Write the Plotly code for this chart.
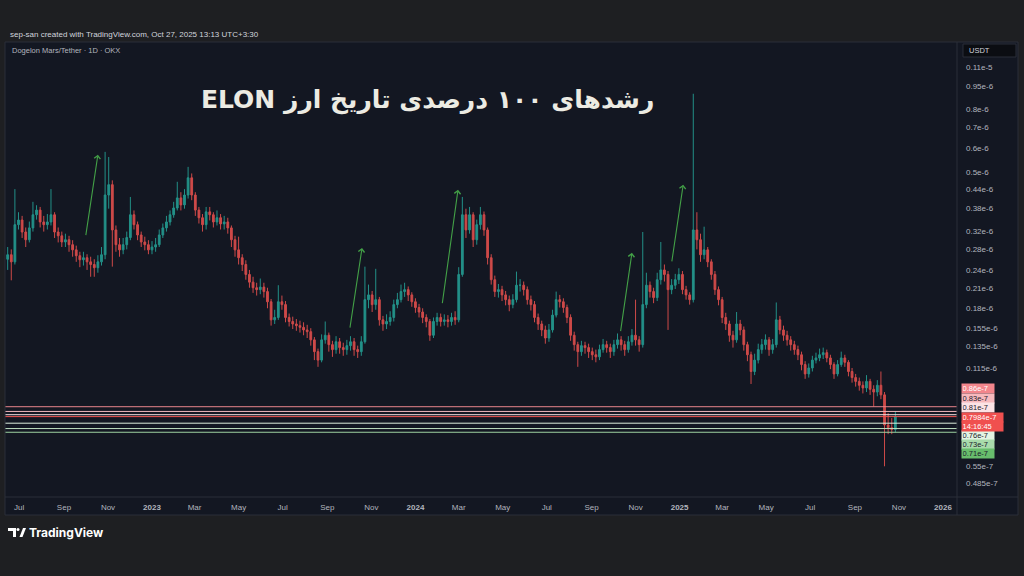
import numpy as np
import pandas as pd
import plotly.graph_objects as go

W, H = 1024, 576
SCALE = 1e-8  # all price lists below are in units of 1e-8 USDT

# ---------------- data (5-day candles) ----------------
first_open = 26.0
close = [26.9,25.5,33.7,34.9,31.9,30.1,32.9,36.3,37.6,34.4,
         33.7,34.4,36.3,31.9,31.0,29.6,30.1,29.0,27.9,26.7,
         25.9,26.3,25.5,25.0,24.4,25.5,26.9,42.1,45.5,32.4,
         29.0,27.9,29.0,30.6,36.3,33.7,31.2,29.6,29.0,27.9,
         28.5,29.0,31.2,32.9,34.4,36.3,38.2,41.2,39.1,42.1,
         47.9,42.1,37.6,35.5,33.7,37.1,36.3,34.4,35.5,33.9,
         34.4,32.9,30.1,27.9,26.3,25.0,23.2,21.9,21.0,20.7,
         21.1,20.4,18.9,16.5,16.8,18.9,18.5,16.8,16.3,16.0,
         15.8,15.6,15.3,15.1,14.2,13.0,12.2,14.2,14.7,13.7,
         13.2,14.0,13.4,13.2,13.6,14.0,13.2,13.0,14.0,19.2,
         19.9,18.5,19.2,16.5,16.0,16.3,16.8,18.5,19.2,20.4,
         20.7,19.9,18.9,18.1,17.5,16.8,16.3,14.7,16.3,16.8,
         16.3,16.5,16.3,16.8,16.5,23.2,36.3,32.4,36.3,30.1,
         33.7,36.3,32.4,26.3,22.3,20.4,20.7,19.9,19.2,18.5,
         19.2,21.4,21.4,20.7,19.2,18.5,16.8,16.0,15.3,14.4,
         15.3,17.1,19.2,18.9,18.1,16.8,14.7,13.7,13.0,13.6,
         13.4,13.0,12.7,12.5,13.2,13.7,13.4,13.0,13.7,14.2,
         13.7,13.2,14.0,14.7,14.2,13.7,18.5,21.4,20.4,19.5,
         22.3,24.0,23.2,20.7,21.4,22.3,23.2,20.7,19.9,19.2,
         32.4,30.1,26.9,27.9,25.5,23.2,20.7,19.2,16.8,16.0,
         14.7,14.2,16.0,15.3,13.7,12.7,11.2,12.2,13.2,13.7,
         14.2,13.2,13.7,16.5,15.3,14.7,14.2,13.7,13.2,12.7,
         11.8,11.0,11.5,12.2,12.4,12.7,12.9,12.4,11.8,11.0,
         11.8,12.4,12.0,11.2,10.7,10.4,10.1,9.9,10.4,9.8,
         9.6,10.1,9.4,7.5,7.35,7.25,7.984]
high = [28.5,28.0,44.0,37.0,36.0,33.0,34.5,40.0,39.0,38.5,
        36.0,36.5,44.0,37.0,33.0,32.0,31.5,31.0,30.0,28.8,
        27.5,27.5,27.0,26.5,26.0,26.8,28.5,58.2,56.0,47.0,
        33.5,30.5,30.5,32.0,41.5,37.5,34.5,32.0,30.8,30.0,
        29.8,30.5,32.5,34.0,36.0,37.5,40.0,46.5,43.0,44.0,
        52.0,49.5,43.0,38.5,36.5,38.5,38.5,37.0,37.5,36.5,
        36.0,35.5,33.5,31.0,30.8,27.0,25.8,24.0,22.8,21.8,
        22.5,21.8,21.0,19.3,17.8,21.4,19.8,19.0,17.3,16.9,
        16.6,16.4,16.2,15.9,15.5,14.5,13.3,14.8,16.3,15.0,
        14.1,14.6,14.4,13.9,14.2,14.6,14.4,13.6,14.6,24.6,
        21.5,20.5,24.2,19.6,17.0,17.2,17.6,19.2,20.2,21.5,
        21.8,21.2,20.3,19.4,18.6,18.0,17.2,16.6,16.8,17.4,
        17.3,17.2,17.1,17.4,17.6,24.5,41.5,38.0,38.5,37.0,
        35.0,38.5,37.2,33.0,27.0,23.0,21.6,21.3,20.5,19.8,
        20.0,23.7,22.4,22.0,21.2,19.8,19.0,17.3,16.4,15.8,
        16.0,17.8,20.4,19.9,19.4,18.5,17.2,15.1,14.0,14.1,
        14.0,13.8,13.4,13.2,13.7,14.3,14.1,13.8,14.2,14.9,
        14.6,14.1,14.6,15.4,19.2,14.6,31.9,23.5,22.0,21.0,
        23.5,29.6,25.0,23.8,22.4,23.3,24.3,23.8,21.3,20.3,
        90.0,37.0,31.5,33.2,28.5,26.0,23.8,21.2,19.6,17.4,
        16.4,15.2,17.5,16.5,15.7,14.0,13.0,12.8,13.8,14.3,
        14.8,14.5,14.3,18.8,17.0,15.8,15.2,14.6,14.1,13.6,
        13.0,12.1,11.9,12.6,12.9,13.3,13.4,13.2,12.7,12.0,
        12.2,13.0,12.7,12.2,11.5,11.0,10.7,10.4,10.9,10.6,
        10.1,10.5,11.2,9.6,8.2,7.9,8.3]
low = [24.0,22.2,25.0,32.5,30.5,28.5,29.5,32.0,35.0,33.0,
       32.0,32.5,33.5,30.5,29.5,28.5,28.5,27.5,26.5,25.5,
       24.5,24.8,24.0,22.8,22.8,23.5,24.8,26.0,38.0,24.6,
       27.5,26.5,27.0,28.0,30.0,32.5,30.0,28.5,27.8,27.0,
       27.0,27.5,28.5,30.5,32.0,33.5,35.5,37.5,37.5,38.0,
       41.0,40.5,36.0,34.0,32.0,32.5,34.8,33.0,33.5,32.5,
       32.5,31.5,28.5,26.5,25.0,23.8,22.3,21.0,20.2,19.8,
       20.0,19.5,18.0,15.8,16.0,16.5,17.8,16.2,15.7,15.4,
       15.2,15.0,14.7,14.4,13.6,12.2,11.6,12.0,13.8,13.0,
       12.5,12.8,12.8,12.6,12.7,13.1,12.6,12.4,12.6,13.8,
       18.0,17.5,17.8,15.8,15.2,15.4,15.8,16.3,18.0,18.8,
       19.6,19.0,18.2,17.4,16.8,16.1,15.6,14.1,14.4,15.8,
       15.7,15.8,15.6,15.8,15.9,16.2,22.8,30.5,31.5,28.5,
       29.0,32.5,31.0,25.0,21.5,19.6,19.5,19.0,18.4,17.6,
       18.0,18.8,20.4,19.8,18.5,17.7,16.2,15.3,14.6,13.8,
       14.0,15.0,16.8,18.1,17.4,16.1,14.1,13.1,11.6,12.6,
       12.8,12.4,12.2,12.0,12.2,12.9,12.9,12.4,12.6,13.3,
       13.1,12.6,12.9,13.6,13.6,13.0,13.4,18.0,19.5,18.7,
       19.0,21.5,22.0,15.3,20.0,20.8,21.6,20.0,19.2,18.5,
       18.8,28.0,25.5,26.0,24.5,22.3,19.9,18.4,16.1,15.3,
       14.0,13.4,13.9,14.7,13.1,12.1,10.2,10.9,11.9,12.8,
       13.2,12.6,12.8,13.4,14.8,14.1,13.6,13.1,12.7,12.2,
       11.3,10.6,10.7,11.2,11.9,12.1,12.3,12.0,11.4,10.6,
       10.8,11.6,11.6,10.8,10.3,10.0,9.7,9.5,9.6,9.4,
       8.6,9.3,9.1,5.5,7.0,7.0,7.1]

# horizontal levels drawn on the chart
level_vals = [8.6, 8.3, 8.1, 7.984, 7.6, 7.3, 7.1]
level_text = ["0.86e-7", "0.83e-7", "0.81e-7", "0.7984e-7", "0.76e-7", "0.73e-7", "0.71e-7"]

# green arrows (tail -> head)
arrow_tail_dates = ["2022-10-01", "2023-10-02", "2024-02-07", "2024-10-11", "2024-12-21"]
arrow_tail_vals = [30.8, 15.4, 18.5, 15.0, 25.3]
arrow_head_dates = ["2022-10-18", "2023-10-19", "2024-02-29", "2024-10-27", "2025-01-06"]
arrow_head_vals = [57.0, 28.3, 43.8, 27.3, 45.5]

# axis ticks
ytick_vals = [110, 95, 80, 70, 60, 50, 44, 38, 32, 28, 24, 21, 18, 15.5, 13.5, 11.5, 5.5, 4.85]
ytick_text = ["0.11e-5", "0.95e-6", "0.8e-6", "0.7e-6", "0.6e-6", "0.5e-6", "0.44e-6", "0.38e-6",
              "0.32e-6", "0.28e-6", "0.24e-6", "0.21e-6", "0.18e-6", "0.155e-6", "0.135e-6",
              "0.115e-6", "0.55e-7", "0.485e-7"]
xtick_dates = ["2022-07-01", "2022-09-01", "2022-11-01", "2023-01-01", "2023-03-01", "2023-05-01",
               "2023-07-01", "2023-09-01", "2023-11-01", "2024-01-01", "2024-03-01", "2024-05-01",
               "2024-07-01", "2024-09-01", "2024-11-01", "2025-01-01", "2025-03-01", "2025-05-01",
               "2025-07-01", "2025-09-01", "2025-11-01", "2026-01-01"]
xtick_text = ["Jul", "Sep", "Nov", "2023", "Mar", "May", "Jul", "Sep", "Nov", "2024", "Mar", "May",
              "Jul", "Sep", "Nov", "2025", "Mar", "May", "Jul", "Sep", "Nov", "2026"]

# ---------------- build ----------------
dates = pd.date_range("2022-06-15", periods=len(close), freq="5D")
c = np.array(close)
o = np.array([first_open] + close[:-1])
h = np.maximum(np.array(high), np.maximum(o, c))
l = np.minimum(np.array(low), np.minimum(o, c))

BG_OUT = "#1e1f22"
BG_CHART = "#131722"
BORDER = "#2a2e39"
TXT = "#b2b5be"

def px(x):
    return x / W

def py(y):
    return 1 - y / H

X0, X1, Y0, Y1 = 5, 957, 42, 497
xrange_ = ["2022-06-11 07:00", "2026-01-20 10:00"]
yrange_ = [-7.3597, -5.8771]

fig = go.Figure()
fig.add_trace(go.Candlestick(
    x=dates, open=o * SCALE, high=h * SCALE, low=l * SCALE, close=c * SCALE,
    increasing=dict(line=dict(color="#26a69a", width=1), fillcolor="#26a69a"),
    decreasing=dict(line=dict(color="#ef5350", width=1), fillcolor="#ef5350"),
    whiskerwidth=0, showlegend=False, hoverinfo="skip", opacity=0.85))

level_line_colors = ["#e8858b", "#f0b7bb", "#f5dfe0", "#ef5350", "#dff0df", "#bfe0c0", "#9fd3a1"]
for v, col in zip(level_vals, level_line_colors):
    fig.add_trace(go.Scatter(x=xrange_, y=[v * SCALE, v * SCALE], mode="lines",
                             line=dict(color=col, width=1), showlegend=False, hoverinfo="skip"))

fig.update_layout(
    width=W, height=H, margin=dict(l=0, r=0, t=0, b=0),
    paper_bgcolor=BG_OUT, plot_bgcolor=BG_CHART, showlegend=False,
    xaxis=dict(domain=[px(X0), px(X1)], type="date", range=xrange_, rangeslider=dict(visible=False),
               showgrid=False, zeroline=False, showline=False, ticks="",
               tickvals=xtick_dates,
               ticktext=[("<b>%s</b>" % t if t.isdigit() else t) for t in xtick_text],
               tickfont=dict(family="Liberation Sans, Arial", size=8, color=TXT),
               ticklabelstandoff=4),
    yaxis=dict(domain=[py(Y1), py(Y0)], type="log", range=yrange_, side="right",
               showgrid=False, zeroline=False, showline=False, ticks="",
               tickvals=[v * SCALE for v in ytick_vals], ticktext=ytick_text,
               tickfont=dict(family="Liberation Sans, Arial", size=8, color=TXT),
               ticklabelstandoff=8),
)

shapes = []
shapes.append(dict(type="rect", xref="paper", yref="paper", x0=px(X1), x1=px(1018), y0=py(515), y1=py(Y0),
                   fillcolor=BG_CHART, line=dict(width=0), layer="below"))
shapes.append(dict(type="rect", xref="paper", yref="paper", x0=px(X0), x1=px(1018), y0=py(515), y1=py(Y1),
                   fillcolor=BG_CHART, line=dict(width=0), layer="below"))
shapes.append(dict(type="rect", xref="paper", yref="paper", x0=px(X0), x1=px(1018), y0=py(515), y1=py(Y0),
                   line=dict(color=BORDER, width=1)))
shapes.append(dict(type="line", xref="paper", yref="paper", x0=px(X1), x1=px(X1), y0=py(515), y1=py(Y0),
                   line=dict(color=BORDER, width=1)))
shapes.append(dict(type="line", xref="paper", yref="paper", x0=px(X0), x1=px(1018), y0=py(Y1), y1=py(Y1),
                   line=dict(color=BORDER, width=1)))
shapes.append(dict(type="rect", xref="paper", yref="paper", x0=px(963), x1=px(1016), y0=py(57), y1=py(44),
                   fillcolor="#0b0d12", line=dict(color=BORDER, width=1)))
# TradingView logo mark
shapes.append(dict(type="path", xref="paper", yref="paper",
                   path="M %f %f L %f %f L %f %f L %f %f L %f %f L %f %f Z" % (
                       px(8), py(528), px(16), py(528), px(16), py(537), px(13), py(537),
                       px(13), py(531), px(8), py(531)),
                   fillcolor="#ffffff", line=dict(width=0)))
shapes.append(dict(type="circle", xref="paper", yref="paper", x0=px(16.5), x1=px(19.5), y0=py(531), y1=py(528),
                   fillcolor="#ffffff", line=dict(width=0)))
shapes.append(dict(type="path", xref="paper", yref="paper",
                   path="M %f %f L %f %f L %f %f L %f %f Z" % (
                       px(19.5), py(537), px(23), py(528), px(26), py(528), px(22.5), py(537)),
                   fillcolor="#ffffff", line=dict(width=0)))
fig.update_layout(shapes=shapes)

ann = []
ann.append(dict(xref="paper", yref="paper", x=px(8), y=py(35), xanchor="left", yanchor="middle",
                text="sep-san created with TradingView.com, Oct 27, 2025 13:13 UTC+3:30",
                showarrow=False, font=dict(family="Liberation Sans, Arial", size=8, color="#d1d4dc")))
ann.append(dict(xref="paper", yref="paper", x=px(10), y=py(50), xanchor="left", yanchor="middle",
                text="Dogelon Mars/Tether · 1D · OKX",
                showarrow=False, font=dict(family="Liberation Sans, Arial", size=7.5, color=TXT)))
ann.append(dict(xref="paper", yref="paper", x=px(967), y=py(50.5), xanchor="left", yanchor="middle",
                text="USDT", showarrow=False,
                font=dict(family="Liberation Sans, Arial", size=7.5, color="#d1d4dc")))
ann.append(dict(xref="paper", yref="paper", x=px(427), y=py(100), xanchor="center", yanchor="middle",
                text="<b>\u202bرشدهای ۱۰۰ درصدی تاریخ ارز ELON\u202c</b>", showarrow=False,
                font=dict(family="DejaVu Sans", size=25, color="#ecebe3")))
ann.append(dict(xref="paper", yref="paper", x=px(27), y=py(532.5), xanchor="left", yanchor="middle",
                text="<b>TradingView</b>", showarrow=False,
                font=dict(family="Inter, Roboto", size=12, color="#ffffff")))

# level labels on price scale
box_y = [388.5, 398, 407.5, 417, 435, 444, 453]
box_bg = ["#f3868c", "#f7b9bd", "#fce3e5", "#f0504f", "#e3f4e3", "#a9dbab", "#68bd6c"]
box_fg = ["#ffffff", "#1e222d", "#1e222d", "#ffffff", "#1e222d", "#1e222d", "#1e222d"]
for t, yy, bg, fg in zip(level_text, box_y, box_bg, box_fg):
    wdt = 40 if t == "0.7984e-7" else 31
    ann.append(dict(xref="paper", yref="paper", x=px(961), y=py(yy), xanchor="left", yanchor="middle",
                    text=t, showarrow=False, bgcolor=bg, width=wdt, height=8, align="left", borderpad=0.6,
                    font=dict(family="Liberation Sans, Arial", size=7.5, color=fg)))
ann.append(dict(xref="paper", yref="paper", x=px(961), y=py(426), xanchor="left", yanchor="middle",
                text="14:16:45", showarrow=False, bgcolor="#f0504f", width=40, height=8, align="left",
                borderpad=0.6, font=dict(family="Liberation Sans, Arial", size=7.5, color="#ffffff")))

# arrows
for td, tv, hd, hv in zip(arrow_tail_dates, arrow_tail_vals, arrow_head_dates, arrow_head_vals):
    ann.append(dict(x=hd, y=np.log10(hv * SCALE), ax=td, ay=np.log10(tv * SCALE), xref="x", yref="y",
                    axref="x", ayref="y", text="", showarrow=True, arrowhead=4, arrowsize=1.1,
                    arrowwidth=1.1, arrowcolor="#43a047"))
fig.update_layout(annotations=ann)

fig.write_html("out.html", config={"displayModeBar": False, "staticPlot": True},
               post_script="document.body.style.margin='0';document.body.style.background='%s';" % BG_OUT)
